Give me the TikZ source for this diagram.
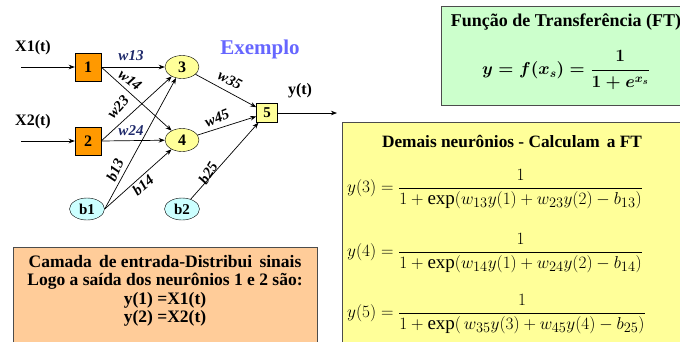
\documentclass[tikz,border=0pt]{standalone}
\usepackage{amsmath}
\usepackage{fontspec}
\setmainfont{Liberation Serif}
\usetikzlibrary{arrows.meta,shapes.geometric}

\definecolor{inorange}{HTML}{FF9900}
\definecolor{neuyellow}{HTML}{FFFF99}
\definecolor{biascyan}{HTML}{CCFFFF}
\definecolor{ftgreen}{HTML}{CCFFCC}
\definecolor{camorange}{HTML}{FFCC99}
\definecolor{exblue}{HTML}{6666FF}
\definecolor{wnavy}{HTML}{1F2A6B}

\begin{document}
\begin{tikzpicture}[
  x=1pt, y=-1pt,
  >=Stealth,
  inbox/.style={draw, fill=inorange, minimum width=26pt, minimum height=28pt,
    inner sep=0pt, font=\fontsize{16}{16}\selectfont\bfseries},
  neuron/.style={draw, ellipse, fill=neuyellow, minimum width=34pt,
    minimum height=23pt, inner sep=0pt, font=\fontsize{16}{16}\selectfont\bfseries},
  outbox/.style={draw, fill=neuyellow, minimum width=21pt, minimum height=19pt,
    inner sep=0pt, font=\fontsize{15}{15}\selectfont\bfseries},
  bias/.style={draw, ellipse, fill=biascyan, minimum width=35pt,
    minimum height=22pt, inner sep=0pt, font=\fontsize{15}{15}\selectfont\bfseries},
  wlab/.style={inner sep=0pt, font=\fontsize{15}{15}\selectfont\bfseries\itshape},
  sig/.style={->, line width=0.7pt},
  panel/.style={draw=black!70, line width=1pt},
  eqn/.style={anchor=west, inner sep=0pt, font=\fontsize{19}{19}\selectfont}
]
  \clip (0,0) rectangle (680,341);
  \useasboundingbox (0,0) rectangle (680,341);

  % Network
  \node[inbox] (n1) at (88,67) {1};
  \node[inbox] (n2) at (88,141) {2};
  \node[neuron] (n3) at (182,67) {3};
  \node[neuron] (n4) at (182,140) {4};
  \node[outbox] (n5) at (267,113) {5};
  \node[bias] (b1) at (87,209) {b1};
  \node[bias] (b2) at (182,209) {b2};

  \coordinate (in1) at (21,67);
  \coordinate (in2) at (21,141);
  \coordinate (out) at (337,113);

  \node[font=\fontsize{16}{16}\selectfont\bfseries] (x1) at (33,48) {X1(t)};
  \node[font=\fontsize{16}{16}\selectfont\bfseries] (x2) at (33,122) {X2(t)};
  \node[font=\fontsize{16}{16}\selectfont\bfseries] (yt) at (300,91) {y(t)};
  \node[font=\fontsize{21}{21}\selectfont\bfseries, text=exblue] (ex) at (260,49) {Exemplo};

  \draw[sig] (in1) -- (n1);
  \draw[sig] (in2) -- (n2);
  \draw[sig] (n1.east) -- (n3);
  \draw[sig] (n1.east) -- (n4);
  \draw[sig] (n2.east) -- (n3);
  \draw[sig] (n2.east) -- (n4);
  \draw[sig] (b1.east) -- (n3);
  \draw[sig] (b1.east) -- (n4);
  \draw[sig] (n3) -- (n5);
  \draw[sig] (n4) -- (n5);
  \draw[sig] (b2) -- (n5);
  \draw[sig] (n5) -- (out);

  % Weights
  \node[wlab, text=wnavy] (w13) at (131,56) {w13};
  \node[wlab, rotate=-38] (w14) at (130,80) {w14};
  \node[wlab, rotate=48] (w23) at (118,107) {w23};
  \node[wlab, text=wnavy] (w24) at (131,131) {w24};
  \node[wlab, rotate=66] (b13) at (115,170) {b13};
  \node[wlab, rotate=40] (b14) at (143,185) {b14};
  \node[wlab, rotate=-28] (w35) at (230,80) {w35};
  \node[wlab, rotate=22] (w45) at (217,118) {w45};
  \node[wlab, rotate=58] (b25) at (208,173) {b25};

  % Transfer function panel
  \draw[panel, fill=ftgreen] (441,6) rectangle (690,105);
  \node[font=\fontsize{18}{18}\selectfont\bfseries] (fttitle) at (566,22) {Função de Transferência (FT)};
  \node[font=\fontsize{18}{18}\selectfont\mathversion{bold}] (ftform) at (566,70) {$\displaystyle y=f(x_s)=\frac{1}{1+e^{x_s}}$};

  % Other neurons panel
  \draw[panel, fill=neuyellow] (342,122) rectangle (690,350);
  \node[font=\fontsize{17.3}{17.3}\selectfont\bfseries] (dmtitle) at (512,142) {Demais neurônios - Calculam\, a FT};
  \node[eqn] (eq3) at (347,189) {$\displaystyle y(3)=\frac{1}{1+\exp(w_{13}y(1)+w_{23}y(2)-b_{13})}$};
  \node[eqn] (eq4) at (347,253) {$\displaystyle y(4)=\frac{1}{1+\exp(w_{14}y(1)+w_{24}y(2)-b_{14})}$};
  \node[eqn] (eq5) at (347,314) {$\displaystyle y(5)=\frac{1}{1+\exp(\,w_{35}y(3)+w_{45}y(4)-b_{25})}$};

  % Input layer panel
  \draw[panel, fill=camorange] (13,247) rectangle (317,350);
  \node[font=\fontsize{17.5}{18.4}\selectfont\bfseries, align=center] (camada) at (165,291) {Camada\, de entrada-Distribui\, sinais\\ Logo a saída dos neurônios 1 e 2 são:\\ y(1) =X1(t)\\ y(2) =X2(t)};
\end{tikzpicture}
\end{document}
